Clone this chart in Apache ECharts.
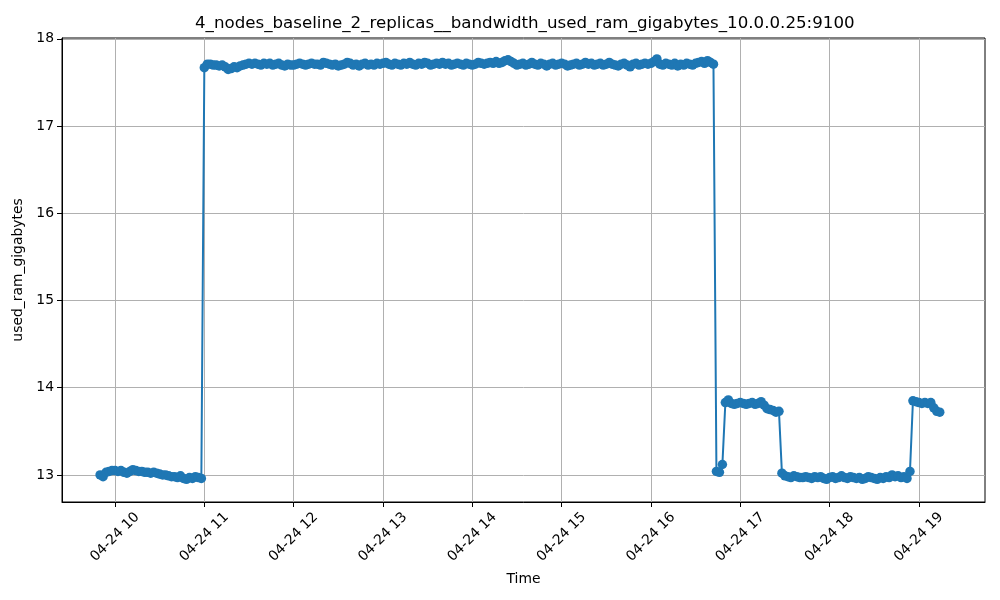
<!DOCTYPE html>
<html>
<head>
<meta charset="utf-8">
<script src="https://cdn.jsdelivr.net/npm/echarts@6/dist/echarts.min.js"></script>
<style>html,body{margin:0;padding:0;background:#fff}#c{width:1000px;height:600px}</style>
</head>
<body>
<div id="c"></div>
<script>
// Samples every 2 minutes starting 2024-04-24 09:50
var startTime = '2024-04-24T09:50:00';
var stepMinutes = 2;
var seg1 = [13.00,12.98,13.03,13.04,13.05,13.05,13.04,13.05,13.03,13.02,13.04,13.06,13.05,13.04,13.04,13.03,13.03,13.02,13.03,13.02,13.01,13.00,13.00,12.99,12.98,12.98,12.97,12.99,12.96,12.95,12.97,12.96,12.98,12.97,12.96];
var seg2 = [17.67,17.71,17.71,17.70,17.70,17.69,17.70,17.68,17.65,17.66,17.68,17.67,17.69,17.70,17.71,17.72,17.71,17.72,17.71,17.70,17.72,17.71,17.72,17.70,17.71,17.72,17.70,17.69,17.71,17.70,
17.70,17.71,17.72,17.71,17.70,17.71,17.72,17.71,17.71,17.70,17.73,17.72,17.71,17.70,17.71,17.69,17.70,17.71,17.73,17.72,17.70,17.71,17.69,17.71,17.72,17.70,17.71,17.70,17.72,17.71,
17.72,17.73,17.71,17.70,17.72,17.71,17.70,17.72,17.71,17.73,17.71,17.70,17.72,17.71,17.73,17.72,17.70,17.71,17.72,17.71,17.73,17.71,17.72,17.70,17.71,17.72,17.71,17.70,17.72,17.71,
17.70,17.71,17.73,17.72,17.71,17.72,17.73,17.72,17.74,17.72,17.73,17.75,17.76,17.74,17.72,17.70,17.71,17.72,17.70,17.71,17.73,17.71,17.70,17.72,17.71,17.69,17.71,17.72,17.70,17.71,
17.72,17.71,17.69,17.70,17.71,17.72,17.70,17.71,17.73,17.71,17.72,17.70,17.71,17.72,17.70,17.71,17.73,17.71,17.70,17.69,17.71,17.72,17.70,17.68,17.71,17.72,17.70,17.71,17.72,17.71,
17.72,17.74,17.77,17.71,17.70,17.72,17.71,17.70,17.72,17.69,17.71,17.70,17.72,17.71,17.70,17.72,17.73,17.74,17.72,17.75,17.73,17.71];
var seg3 = [13.04,13.03,13.12,13.83,13.86,13.82,13.81,13.82,13.83,13.82,13.81,13.82,13.83,13.81,13.82,13.84,13.80,13.76,13.75,13.74,13.72,13.73];
var seg4 = [13.02,12.99,12.98,12.97,12.99,12.98,12.97,12.97,12.98,12.97,12.96,12.98,12.97,12.98,12.96,12.95,12.97,12.98,12.96,12.97,12.99,12.97,12.96,12.98,12.97,12.96,12.97,12.95,12.96,12.98,12.97,12.96,12.95,12.97,12.96,12.98,12.97,13.00,12.98,12.99,12.97,12.98,12.96,13.04];
var seg5 = [13.85,13.84,13.83,13.82,13.83,13.82,13.83,13.77,13.73,13.72];
var xTickHours = [10,11,12,13,14,15,16,17,18,19];
var yTicks = [13,14,15,16,17,18];

var values = seg1.concat(seg2, seg3, seg4, seg5);
var t0 = new Date(startTime).getTime();
var data = values.map(function (v, i) { return [t0 + i * stepMinutes * 60000, v]; });
var day = new Date('2024-04-24T00:00:00').getTime();
var xTicks = xTickHours.map(function (h) { return day + h * 3600000; });
function pad(n){return (n<10?'0':'')+n;}

var chart = echarts.init(document.getElementById('c'), null, {renderer:'canvas'});
chart.setOption({
  animation: false,
  backgroundColor: '#fff',
  textStyle: {fontFamily: 'DejaVu Sans'},
  graphic: [{
    type: 'text', left: 195, top: 15, z: 10,
    style: {text: '4_nodes_baseline_2_replicas__bandwidth_used_ram_gigabytes_10.0.0.25:9100',
      x: 0, y: 0, font: '16.67px "DejaVu Sans"', fill: '#000'}
  }],
  grid: {left: 62, right: 15, top: 38, bottom: 98, show: true, borderColor: '#000', borderWidth: 1, backgroundColor: 'transparent'},
  xAxis: {
    type: 'value',
    min: day + (9*60+24.4) * 60000,
    max: day + (19*60+44.4) * 60000,
    name: 'Time', nameLocation: 'middle', nameGap: 70,
    nameTextStyle: {fontFamily: 'DejaVu Sans', fontSize: 13.9, color: '#000'},
    axisLine: {show: true, lineStyle: {color: '#000', width: 1}},
    axisTick: {show: true, length: 5, lineStyle: {color: '#000'}, customValues: xTicks},
    axisLabel: {
      customValues: xTicks, rotate: 45, align: 'center', verticalAlign: 'middle', margin: 35,
      fontFamily: 'DejaVu Sans', fontSize: 13.9, color: '#000',
      formatter: function (v) { var d = new Date(v); return '04-24 ' + pad(d.getHours()); }
    },
    splitLine: {show: true, lineStyle: {color: '#b0b0b0', width: 1}}
  },
  yAxis: {
    type: 'value',
    min: 12.69, max: 18.01,
    name: 'used_ram_gigabytes', nameLocation: 'middle', nameGap: 31,
    nameTextStyle: {fontFamily: 'DejaVu Sans', fontSize: 13.9, color: '#000'},
    axisLine: {show: true, lineStyle: {color: '#000', width: 1}},
    axisTick: {show: true, length: 5, lineStyle: {color: '#000'}, customValues: yTicks},
    axisLabel: {customValues: yTicks, margin: 8, fontFamily: 'DejaVu Sans', fontSize: 13.9, color: '#000',
      formatter: function (v) { return String(Math.round(v)); }},
    splitLine: {show: true, lineStyle: {color: '#b0b0b0', width: 1}}
  },
  series: [{
    type: 'line',
    data: data,
    symbol: 'circle',
    symbolSize: 9.5,
    showSymbol: true,
    showAllSymbol: true,
    itemStyle: {color: '#1f77b4'},
    lineStyle: {color: '#1f77b4', width: 2},
    emphasis: {disabled: true}
  }]
});
</script>
</body>
</html>
